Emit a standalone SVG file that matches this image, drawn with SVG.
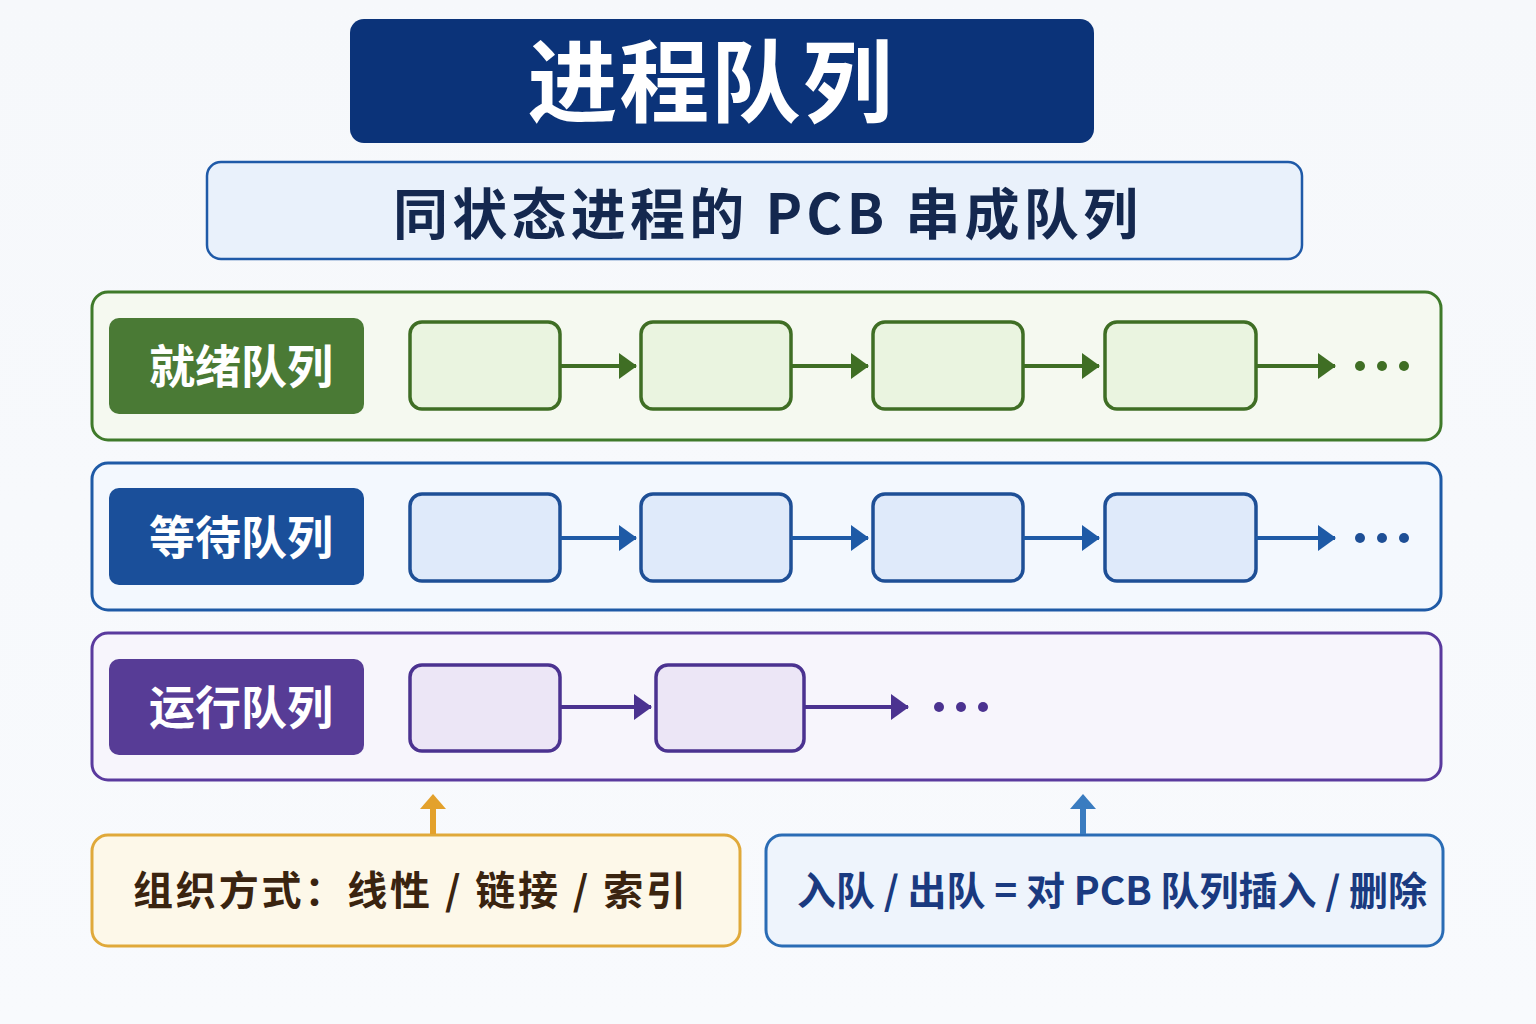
<svg xmlns="http://www.w3.org/2000/svg" width="1536" height="1024" viewBox="0 0 1536 1024">
<style>
text{font-family:"Noto Sans CJK SC","Noto Sans",sans-serif;font-weight:700}
.lbl{font-size:46px;fill:#fff;text-anchor:middle}
.g-panel{fill:#f5f9f0;stroke:#3f7a2a;stroke-width:3}
.b-panel{fill:#f3f8fe;stroke:#1e5aa6;stroke-width:3}
.p-panel{fill:#f7f5fc;stroke:#5a3a9e;stroke-width:3}
.g-node{fill:#eaf4e0;stroke:#3f6e24;stroke-width:3.5}
.b-node{fill:#dfeafa;stroke:#1e4f96;stroke-width:3.5}
.p-node{fill:#ece6f6;stroke:#4b3290;stroke-width:3.5}
.g-ln{stroke:#3f6e24;stroke-width:4;fill:none}
.b-ln{stroke:#1e5aa6;stroke-width:4;fill:none}
.p-ln{stroke:#4b3290;stroke-width:4;fill:none}
</style>
<defs>
<linearGradient id="bg" x1="0" y1="0" x2="0" y2="1"><stop offset="0" stop-color="#f6f8fb"/><stop offset="1" stop-color="#f8fafd"/></linearGradient>
<marker id="ag" viewBox="0 0 18 26" refX="17" refY="13" markerWidth="18" markerHeight="26" markerUnits="userSpaceOnUse" orient="auto"><path d="M0,0L18,13L0,26z" fill="#3f6e24"/></marker>
<marker id="ab" viewBox="0 0 18 26" refX="17" refY="13" markerWidth="18" markerHeight="26" markerUnits="userSpaceOnUse" orient="auto"><path d="M0,0L18,13L0,26z" fill="#1e5aa6"/></marker>
<marker id="ap" viewBox="0 0 18 26" refX="17" refY="13" markerWidth="18" markerHeight="26" markerUnits="userSpaceOnUse" orient="auto"><path d="M0,0L18,13L0,26z" fill="#4b3290"/></marker>
</defs>
<rect width="1536" height="1024" fill="url(#bg)"/>

<g id="title">
<rect x="350" y="19" width="744" height="124" rx="14" fill="#0b3379"/>
<text x="710" y="115" font-size="90" fill="#fff" text-anchor="middle" textLength="365" lengthAdjust="spacing">进程队列</text>
</g>
<g id="subtitle">
<rect x="207" y="162" width="1095" height="97" rx="14" fill="#e9f1fb" stroke="#1f5aa8" stroke-width="2.5"/>
<text x="393" y="234" font-size="55" fill="#14284f" textLength="745" lengthAdjust="spacing">同状态进程的 PCB 串成队列</text>
</g>

<g id="ready">
<rect class="g-panel" x="92" y="292" width="1349" height="148" rx="16"/>
<rect x="109" y="318" width="255" height="96" rx="10" fill="#4a7a35"/>
<text class="lbl" x="241" y="383">就绪队列</text>
<rect class="g-node" x="410" y="322" width="150" height="87" rx="12"/>
<rect class="g-node" x="641" y="322" width="150" height="87" rx="12"/>
<rect class="g-node" x="873" y="322" width="150" height="87" rx="12"/>
<rect class="g-node" x="1105" y="322" width="151" height="87" rx="12"/>
<g fill="#3f6e24"><circle cx="1360" cy="366" r="5"/><circle cx="1382" cy="366" r="5"/><circle cx="1404" cy="366" r="5"/></g>
</g>

<g id="waiting">
<rect class="b-panel" x="92" y="463" width="1349" height="147" rx="16"/>
<rect x="109" y="488" width="255" height="97" rx="10" fill="#1a4f9a"/>
<text class="lbl" x="241" y="554">等待队列</text>
<rect class="b-node" x="410" y="494" width="150" height="87" rx="12"/>
<rect class="b-node" x="641" y="494" width="150" height="87" rx="12"/>
<rect class="b-node" x="873" y="494" width="150" height="87" rx="12"/>
<rect class="b-node" x="1105" y="494" width="151" height="87" rx="12"/>
<g fill="#1e4f96"><circle cx="1360" cy="538" r="5"/><circle cx="1382" cy="538" r="5"/><circle cx="1404" cy="538" r="5"/></g>
</g>

<g id="running">
<rect class="p-panel" x="92" y="633" width="1349" height="147" rx="16"/>
<rect x="109" y="659" width="255" height="96" rx="10" fill="#573c96"/>
<text class="lbl" x="241" y="724">运行队列</text>
<rect class="p-node" x="410" y="665" width="150" height="86" rx="12"/>
<rect class="p-node" x="656" y="665" width="148" height="86" rx="12"/>
<g fill="#4b3290"><circle cx="939" cy="707" r="5"/><circle cx="961" cy="707" r="5"/><circle cx="983" cy="707" r="5"/></g>
</g>

<g id="org">
<rect x="92" y="835" width="648" height="111" rx="16" fill="#fdf8e9" stroke="#e0a93a" stroke-width="3"/>
<text x="133" y="905" font-size="40" fill="#3a2410" textLength="553" lengthAdjust="spacing">组织方式：线性 / 链接 / 索引</text>
</g>
<g id="ops">
<rect x="766" y="835" width="677" height="111" rx="16" fill="#eef4fc" stroke="#2a6cb5" stroke-width="3"/>
<text x="797" y="905" font-size="39" fill="#1a3a80" textLength="630" lengthAdjust="spacing">入队 / 出队 = 对 PCB 队列插入 / 删除</text>
</g>

<g id="connectors">
<line class="g-ln" x1="560" y1="366" x2="636" y2="366" marker-end="url(#ag)"/>
<line class="g-ln" x1="791" y1="366" x2="868" y2="366" marker-end="url(#ag)"/>
<line class="g-ln" x1="1023" y1="366" x2="1099" y2="366" marker-end="url(#ag)"/>
<line class="g-ln" x1="1256" y1="366" x2="1335" y2="366" marker-end="url(#ag)"/>
<line class="b-ln" x1="560" y1="538" x2="636" y2="538" marker-end="url(#ab)"/>
<line class="b-ln" x1="791" y1="538" x2="868" y2="538" marker-end="url(#ab)"/>
<line class="b-ln" x1="1023" y1="538" x2="1099" y2="538" marker-end="url(#ab)"/>
<line class="b-ln" x1="1256" y1="538" x2="1335" y2="538" marker-end="url(#ab)"/>
<line class="p-ln" x1="560" y1="707" x2="651" y2="707" marker-end="url(#ap)"/>
<line class="p-ln" x1="804" y1="707" x2="908" y2="707" marker-end="url(#ap)"/>
<line x1="433" y1="834" x2="433" y2="808" stroke="#e3a12c" stroke-width="6"/>
<path d="M420,809L433,794L446,809z" fill="#e3a12c"/>
<line x1="1083" y1="834" x2="1083" y2="808" stroke="#3a7cc0" stroke-width="6"/>
<path d="M1070,809L1083,794L1096,809z" fill="#3a7cc0"/>
</g>
</svg>
